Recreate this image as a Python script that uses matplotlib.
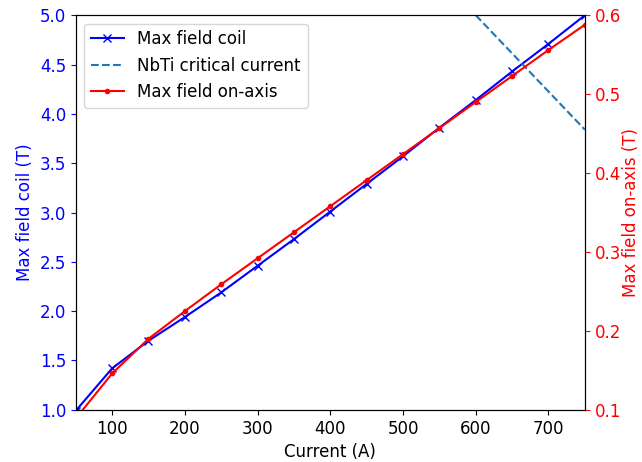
import matplotlib
matplotlib.use('Agg')
import matplotlib.pyplot as plt

plt.rcParams['font.size'] = 12

# current steps (A)
current = [50, 100, 150, 200, 250, 300, 350, 400, 450, 500, 550, 600, 650, 700, 750]
# peak field in the winding (T)
b_coil = [0.99, 1.42, 1.70, 1.94, 2.19, 2.46, 2.73, 3.01, 3.29, 3.57, 3.86, 4.14, 4.43, 4.71, 5.0]
# peak field on the axis (T)
b_axis = [0.089, 0.146, 0.190, 0.225, 0.259, 0.292, 0.325, 0.358, 0.391, 0.424, 0.457, 0.490, 0.523, 0.556, 0.588]
# NbTi critical current line
nbti_current = [600, 750]
nbti_field = [5.0, 3.84]

fig = plt.figure(figsize=(6.42, 4.62), dpi=100)
ax1 = fig.add_subplot(111)
fig.subplots_adjust(left=0.118, right=0.911, bottom=0.113, top=0.967)

l1, = ax1.plot(current, b_coil, 'b-x', label='Max field coil')
l2, = ax1.plot(nbti_current, nbti_field, '--', color='C0', label='NbTi critical current')
ax1.set_xlim(50, 750)
ax1.set_ylim(1.0, 5.0)
ax1.set_xlabel('Current (A)')
ax1.set_ylabel('Max field coil (T)', color='b')
ax1.tick_params(axis='y', colors='b')

ax2 = ax1.twinx()
l3, = ax2.plot(current, b_axis, 'r.-', label='Max field on-axis')
ax2.set_ylim(0.1, 0.6)
ax2.set_ylabel('Max field on-axis (T)', color='r', labelpad=1)
ax2.tick_params(axis='y', colors='r')

ax2.legend(handles=[l1, l2, l3], loc='upper left')

fig.savefig('out.png', dpi=100)
